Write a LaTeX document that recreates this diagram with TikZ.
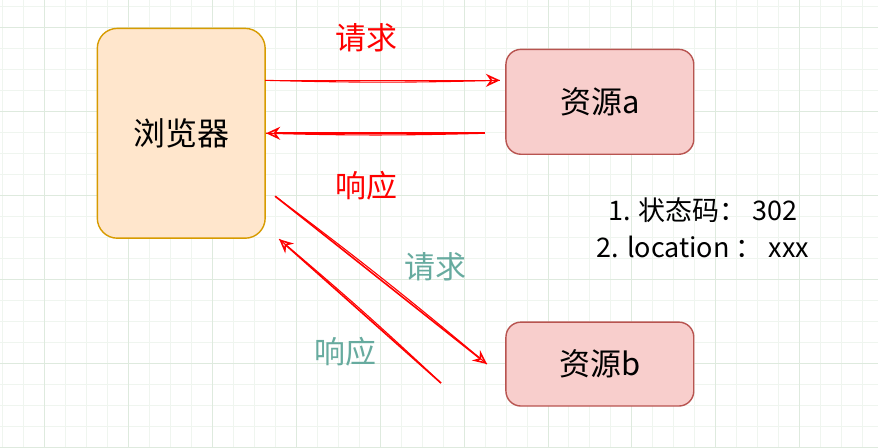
\documentclass[tikz,border=0pt]{standalone}
\usepackage{fontspec}
\setmainfont{Noto Sans CJK SC}
\usetikzlibrary{positioning,arrows.meta}
\definecolor{bwFill}{HTML}{FFE6CC}
\definecolor{bwLine}{HTML}{D79B00}
\definecolor{resFill}{HTML}{F8CECC}
\definecolor{resLine}{HTML}{B85450}
\definecolor{gridMinor}{HTML}{EFF5EF}
\definecolor{gridMajor}{HTML}{DEEADE}
\definecolor{lblTeal}{HTML}{67AB9F}

\begin{document}
\begin{tikzpicture}[
  x=1pt, y=-1pt,
  every node/.style={inner sep=0pt},
  browser/.style={draw=bwLine, fill=bwFill, line width=1.4pt, rounded corners=20pt, minimum width=168pt, minimum height=210pt, font=\fontsize{32}{32}\selectfont},
  resource/.style={draw=resLine, fill=resFill, line width=1.4pt, rounded corners=15pt, minimum width=188pt, font=\fontsize{31}{31}\selectfont},
  label/.style={font=\fontsize{31}{31}\selectfont},
  sketch/.style={draw=red, line width=1.6pt, -{Stealth[open, length=14pt, width=13pt, line width=1.6pt]}},
  sketchback/.style={draw=red, line width=1.1pt},
  legend/.style={align=center, font=\fontsize{27}{37}\selectfont}
]

% background grid
\fill[white] (0,0) rectangle (878,447);
\foreach \x in {2,23,...,878} \draw[gridMinor, line width=0.8pt] (\x,0) -- (\x,447);
\foreach \y in {6,27,...,447} \draw[gridMinor, line width=0.8pt] (0,\y) -- (878,\y);
\foreach \x in {44,128,...,878} \draw[gridMajor, line width=0.8pt] (\x,0) -- (\x,447);
\foreach \y in {27,111,...,447} \draw[gridMajor, line width=0.8pt] (0,\y) -- (878,\y);

% boxes
\node[browser] (browser) at (181,133) {浏览器};
\node[resource, minimum height=105pt] (resA) at (600,101.5) {资源a};
\node[resource, minimum height=84pt] (resB) at (600,364) {资源b};

% labels
\node[label, red] (reqAlbl) at (366,37) {请求};
\node[label, red] (respAlbl) at (366,185) {响应};
\node[label, lblTeal] (reqBlbl) at (435,267) {请求};
\node[label, lblTeal] (respBlbl) at (345,352) {响应};

\node[legend] (info) at (703,228) {1. 状态码：\ 302\\2. location ：\ xxx};

% arrow ends
\coordinate (reqAs) at (265,80);
\coordinate (reqAe) at (500,80);
\coordinate (respAs) at (485,133);
\coordinate (respAe) at (266,133);
\coordinate (reqBs) at (275,196);
\coordinate (reqBe) at (487,364);
\coordinate (respBs) at (441,383);
\coordinate (respBe) at (279,239);

% sketchy arrows
\draw[sketch] (reqAs) -- (reqAe);
\draw[sketchback] (reqAs) to[bend right=1.5] (reqAe);
\draw[sketch] (respAs) -- (respAe);
\draw[sketchback] (respAs) to[bend left=1.5] (respAe);
\draw[sketch] (reqBs) -- (reqBe);
\draw[sketchback] (reqBs) to[bend left=1.5] (reqBe);
\draw[sketch] (respBs) -- (respBe);
\draw[sketchback] (respBs) to[bend right=1.5] (respBe);

\end{tikzpicture}
\end{document}
